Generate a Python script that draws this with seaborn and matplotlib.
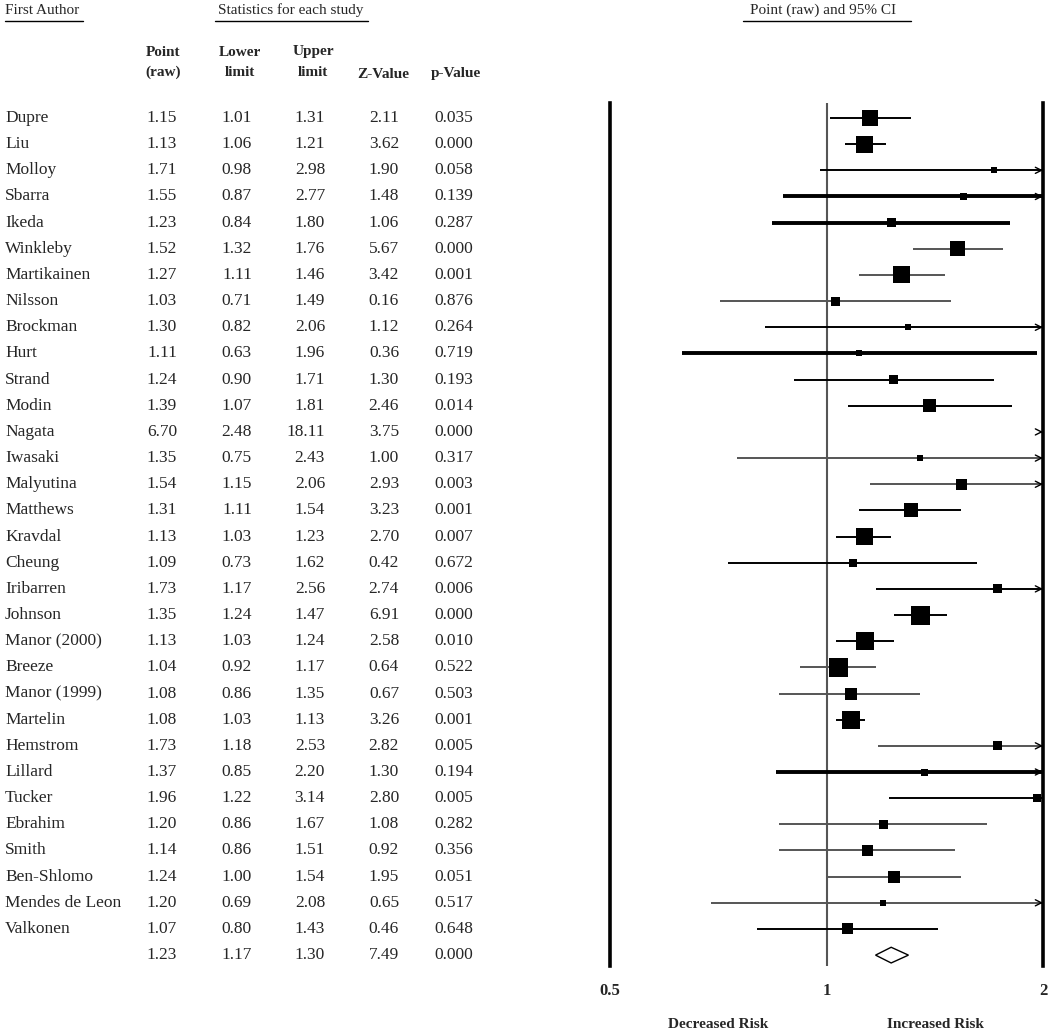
import numpy as np
import pandas as pd
import seaborn as sns
import matplotlib.pyplot as plt
from matplotlib.lines import Line2D
from matplotlib.ticker import NullLocator

# Study data
authors = ['Dupre', 'Liu', 'Molloy', 'Sbarra', 'Ikeda', 'Winkleby', 'Martikainen',
           'Nilsson', 'Brockman', 'Hurt', 'Strand', 'Modin', 'Nagata', 'Iwasaki',
           'Malyutina', 'Matthews', 'Kravdal', 'Cheung', 'Iribarren', 'Johnson',
           'Manor (2000)', 'Breeze', 'Manor (1999)', 'Martelin', 'Hemstrom', 'Lillard',
           'Tucker', 'Ebrahim', 'Smith', 'Ben-Shlomo', 'Mendes de Leon', 'Valkonen']
point = [1.15, 1.13, 1.71, 1.55, 1.23, 1.52, 1.27, 1.03, 1.30, 1.11, 1.24, 1.39, 6.70, 1.35,
         1.54, 1.31, 1.13, 1.09, 1.73, 1.35, 1.13, 1.04, 1.08, 1.08, 1.73, 1.37, 1.96, 1.20,
         1.14, 1.24, 1.20, 1.07]
lower = [1.01, 1.06, 0.98, 0.87, 0.84, 1.32, 1.11, 0.71, 0.82, 0.63, 0.90, 1.07, 2.48, 0.75,
         1.15, 1.11, 1.03, 0.73, 1.17, 1.24, 1.03, 0.92, 0.86, 1.03, 1.18, 0.85, 1.22, 0.86,
         0.86, 1.00, 0.69, 0.80]
upper = [1.31, 1.21, 2.98, 2.77, 1.80, 1.76, 1.46, 1.49, 2.06, 1.96, 1.71, 1.81, 18.11, 2.43,
         2.06, 1.54, 1.23, 1.62, 2.56, 1.47, 1.24, 1.17, 1.35, 1.13, 2.53, 2.20, 3.14, 1.67,
         1.51, 1.54, 2.08, 1.43]
z_val = [2.11, 3.62, 1.90, 1.48, 1.06, 5.67, 3.42, 0.16, 1.12, 0.36, 1.30, 2.46, 3.75, 1.00,
         2.93, 3.23, 2.70, 0.42, 2.74, 6.91, 2.58, 0.64, 0.67, 3.26, 2.82, 1.30, 2.80, 1.08,
         0.92, 1.95, 0.65, 0.46]
p_val = [0.035, 0.000, 0.058, 0.139, 0.287, 0.000, 0.001, 0.876, 0.264, 0.719, 0.193, 0.014,
         0.000, 0.317, 0.003, 0.001, 0.007, 0.672, 0.006, 0.000, 0.010, 0.522, 0.503, 0.001,
         0.005, 0.194, 0.005, 0.282, 0.356, 0.051, 0.517, 0.648]
# relative study weight (box side)
weight = [16, 17, 6, 7, 9, 15, 17, 9, 6, 6, 9, 13, 6, 6, 11, 14, 17, 8, 9, 19, 18, 19, 12,
          18, 9, 7, 8, 9, 11, 12, 6, 11]
# pooled estimate
pooled = [1.23, 1.17, 1.30, 7.49, 0.000]

thick_rows = {'Sbarra', 'Ikeda', 'Hurt', 'Lillard'}
grey_rows = {'Winkleby', 'Martikainen', 'Nilsson', 'Iwasaki', 'Malyutina', 'Breeze',
             'Manor (1999)', 'Hemstrom', 'Mendes de Leon', 'Smith', 'Ben-Shlomo', 'Ebrahim'}

sns.set_style('white')
plt.rcParams['font.family'] = ['Liberation Serif', 'DejaVu Serif']

W, H = 1050, 1034
fig = plt.figure(figsize=(W / 100, H / 100), dpi=100)


def fx(px):
    return px / W


def fy(py):
    return 1 - py / H


row0, dy = 118, 26.16
n = len(authors)
rows = np.arange(n)

# forest panel
ax = fig.add_axes([fx(610), fy(966), fx(1043) - fx(610), (966 - 103) / H])
ax.set_xscale('log')
ax.set_xlim(0.5, 2)
ax.set_ylim((966 - row0) / dy, (103 - row0) / dy)
ax.axvline(1, color='#555555', lw=1.5, zorder=1)

for i in rows:
    lo, hi = max(lower[i], 0.5), min(upper[i], 2)
    name = authors[i]
    col = '#555555' if name in grey_rows else 'black'
    lw = 2.8 if name in thick_rows else 1.4
    if lo < hi:
        ax.plot([lo, hi], [i, i], color=col, lw=lw, solid_capstyle='butt', zorder=2)
    if upper[i] > 2:
        ax.annotate('', xy=(2, i), xytext=(1.985, i),
                    arrowprops=dict(arrowstyle='->', color='black', lw=1, mutation_scale=11),
                    annotation_clip=False)

df = pd.DataFrame({'point': point, 'row': rows, 'area': (np.array(weight) * 0.72) ** 2})
df = df[df['point'] <= 2]
amin, amax = df['area'].min(), df['area'].max()
sns.scatterplot(data=df, x='point', y='row', size='area', sizes=(amin, amax),
                size_norm=(amin, amax), marker='s', color='black', linewidth=0,
                legend=False, ax=ax, zorder=3, clip_on=False)

# pooled diamond
r = n
ax.fill([pooled[1], pooled[0], pooled[2], pooled[0]], [r, r - 0.3, r, r + 0.3],
        facecolor='white', edgecolor='black', lw=1, zorder=3)

ax.set_xticks([0.5, 1, 2])
ax.set_xticklabels(['0.5', '1', '2'], fontweight='bold')
ax.xaxis.set_minor_locator(NullLocator())
ax.set_yticks([])
ax.tick_params(axis='x', length=0, pad=12, labelsize=12)
ax.set_xlabel('')
ax.set_ylabel('')
for s in ['top', 'bottom']:
    ax.spines[s].set_visible(False)
for s in ['left', 'right']:
    ax.spines[s].set_linewidth(2.6)
    ax.spines[s].set_color('black')

# headers
fs = 12.5
fig.text(fx(5), fy(10), 'First Author', ha='left', va='center', fontsize=11)
fig.add_artist(Line2D([fx(5), fx(83)], [fy(21), fy(21)], color='black', lw=1))
fig.text(fx(291), fy(10), 'Statistics for each study', ha='center', va='center', fontsize=11)
fig.add_artist(Line2D([fx(215), fx(368)], [fy(21), fy(21)], color='black', lw=1))
fig.text(fx(823), fy(10), 'Point (raw) and 95% CI', ha='center', va='center', fontsize=11)
fig.add_artist(Line2D([fx(743), fx(911)], [fy(21), fy(21)], color='black', lw=1))

for xc, top, bottom in [(163, 'Point', '(raw)'), (240, 'Lower', 'limit'), (313, 'Upper', 'limit')]:
    fig.text(fx(xc), fy(52), top, ha='center', va='center', fontsize=11, fontweight='bold')
    fig.text(fx(xc), fy(72), bottom, ha='center', va='center', fontsize=11, fontweight='bold')
fig.text(fx(383), fy(74), 'Z-Value', ha='center', va='center', fontsize=11, fontweight='bold')
fig.text(fx(456), fy(74), 'p-Value', ha='center', va='center', fontsize=11, fontweight='bold')

# table
cols_x = [177, 252, 325, 399, 473]
for i in rows:
    y = fy(row0 + dy * i)
    fig.text(fx(5), y, authors[i], ha='left', va='center', fontsize=fs)
    vals = ['%.2f' % point[i], '%.2f' % lower[i], '%.2f' % upper[i], '%.2f' % z_val[i],
            '%.3f' % p_val[i]]
    for xv, v in zip(cols_x, vals):
        fig.text(fx(xv), y, v, ha='right', va='center', fontsize=fs)
y = fy(row0 + dy * n)
vals = ['%.2f' % pooled[0], '%.2f' % pooled[1], '%.2f' % pooled[2], '%.2f' % pooled[3],
        '%.3f' % pooled[4]]
for xv, v in zip(cols_x, vals):
    fig.text(fx(xv), y, v, ha='right', va='center', fontsize=fs)

fig.text(fx(718), fy(1024), 'Decreased Risk', ha='center', va='center', fontsize=11,
         fontweight='bold')
fig.text(fx(935), fy(1024), 'Increased Risk', ha='center', va='center', fontsize=11,
         fontweight='bold')

fig.savefig('out.png', dpi=100)
